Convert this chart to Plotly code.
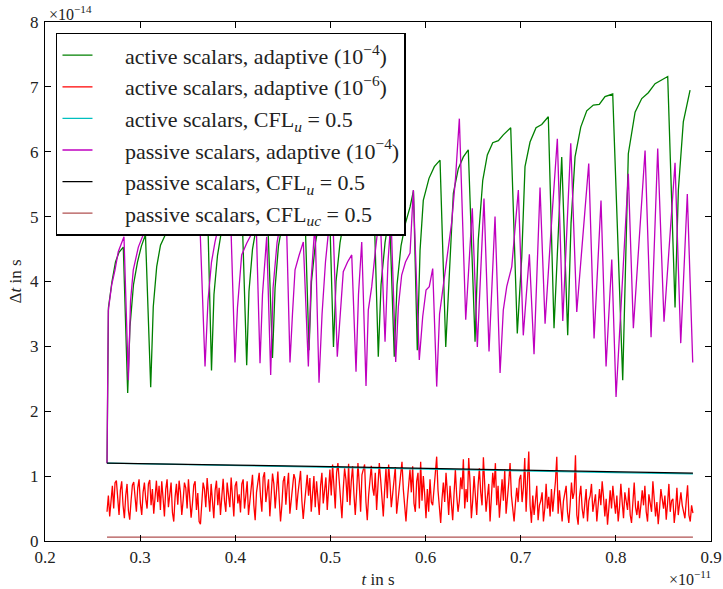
import numpy as np
import plotly.graph_objects as go

# ---- data (t in units of 1e-11 s, dt in units of 1e-14 s) ----
green_t = [0.2652, 0.2667, 0.2704, 0.2741, 0.2778, 0.2823, 0.2869, 0.2893, 0.2930, 0.2972,
           0.3014, 0.3056, 0.3111, 0.3138, 0.3174, 0.3214, 0.3261, 0.3319, 0.3372, 0.3424,
           0.3477, 0.3535, 0.3587, 0.3645, 0.3703, 0.3750, 0.3776, 0.3813, 0.3855, 0.3908,
           0.3960, 0.4013, 0.4065, 0.4120, 0.4144, 0.4181, 0.4228, 0.4281, 0.4333, 0.4391,
           0.4418, 0.4454, 0.4502, 0.4554, 0.4607, 0.4665, 0.4722, 0.4775, 0.4801, 0.4843,
           0.4891, 0.4938, 0.4985, 0.5032, 0.5059, 0.5101, 0.5148, 0.5201, 0.5253, 0.5311,
           0.5364, 0.5421, 0.5448, 0.5503, 0.5532, 0.5574, 0.5621, 0.5671, 0.5700, 0.5742,
           0.5789, 0.5837, 0.5873, 0.5913, 0.5942, 0.5976, 0.6036, 0.6092, 0.6152, 0.6212,
           0.6239, 0.6292, 0.6344, 0.6397, 0.6449, 0.6520, 0.6554, 0.6601, 0.6649, 0.6706,
           0.6765, 0.6817, 0.6895, 0.6964, 0.7011, 0.7045, 0.7098, 0.7161, 0.7221, 0.7290,
           0.7350, 0.7431, 0.7494, 0.7529, 0.7571, 0.7631, 0.7694, 0.7763, 0.7826, 0.7886,
           0.7967, 0.8072, 0.8131, 0.8202, 0.8272, 0.8341, 0.8412, 0.8472, 0.8545, 0.8622,
           0.8657, 0.8709, 0.8780]
green_dt = [1.20, 3.60, 4.00, 4.30, 4.45, 4.53, 2.28, 3.30, 3.95, 4.30,
            4.55, 4.72, 2.37, 3.61, 4.23, 4.56, 4.71, 4.74, 4.87, 5.05,
            5.18, 5.28, 5.35, 5.40, 5.45, 2.63, 3.80, 4.40, 4.78, 5.00,
            5.15, 5.28, 5.38, 2.71, 3.85, 4.50, 4.90, 5.15, 5.30, 2.82,
            3.90, 4.55, 4.95, 5.20, 5.35, 5.45, 5.55, 2.94, 4.00, 4.60,
            5.00, 5.25, 5.40, 2.99, 4.00, 4.60, 5.00, 5.25, 5.40, 5.50,
            5.58, 5.65, 5.70, 2.84, 3.95, 4.60, 5.05, 2.84, 3.95, 4.55,
            4.90, 5.15, 5.40, 2.94, 4.48, 5.25, 5.59, 5.77, 5.87, 2.99,
            3.87, 5.36, 5.74, 5.92, 6.03, 3.07, 4.64, 5.56, 5.95, 6.14,
            6.17, 6.26, 6.37, 3.20, 4.38, 5.77, 6.15, 6.37, 6.42, 6.54,
            3.28, 5.92, 3.17, 4.90, 5.92, 6.38, 6.63, 6.72, 6.73, 6.85,
            6.89, 2.48, 5.97, 6.61, 6.82, 6.91, 7.05, 7.10, 7.16, 3.60,
            5.41, 6.46, 6.95]

magenta_t = [0.2652, 0.2665, 0.2701, 0.2736, 0.2770, 0.2830, 0.2876, 0.2899, 0.2928, 0.2981,
             0.3051, 0.3104, 0.3156, 0.3209, 0.3261, 0.3319, 0.3377, 0.3435, 0.3493, 0.3550,
             0.3608, 0.3682, 0.3713, 0.3750, 0.3787, 0.3839, 0.3892, 0.3945, 0.3997, 0.4023,
             0.4067, 0.4120, 0.4173, 0.4218, 0.4260, 0.4286, 0.4330, 0.4372, 0.4397, 0.4439,
             0.4486, 0.4533, 0.4575, 0.4601, 0.4628, 0.4670, 0.4715, 0.4768, 0.4796, 0.4838,
             0.4880, 0.4912, 0.4948, 0.4985, 0.5022, 0.5072, 0.5135, 0.5180, 0.5224, 0.5269,
             0.5295, 0.5329, 0.5374, 0.5398, 0.5434, 0.5474, 0.5521, 0.5574, 0.5605, 0.5637,
             0.5686, 0.5714, 0.5749, 0.5789, 0.5837, 0.5871, 0.5934, 0.5970, 0.6005, 0.6039,
             0.6075, 0.6117, 0.6147, 0.6222, 0.6275, 0.6315, 0.6355, 0.6422, 0.6491, 0.6544,
             0.6614, 0.6667, 0.6730, 0.6783, 0.6817, 0.6853, 0.6906, 0.6975, 0.7027, 0.7091,
             0.7140, 0.7203, 0.7256, 0.7319, 0.7385, 0.7442, 0.7526, 0.7589, 0.7715, 0.7771,
             0.7844, 0.7897, 0.7957, 0.8002, 0.8131, 0.8184, 0.8307, 0.8370, 0.8440, 0.8506,
             0.8622, 0.8682, 0.8751, 0.8808]
magenta_dt = [1.20, 3.55, 3.95, 4.18, 4.46, 4.69, 2.48, 3.70, 4.18, 4.53,
              4.79, 4.98, 5.10, 5.20, 5.30, 5.40, 5.48, 5.55, 5.60, 5.65,
              5.70, 2.69, 3.70, 4.30, 4.61, 4.95, 5.15, 5.30, 2.75, 3.60,
              4.41, 4.59, 4.74, 5.00, 2.74, 3.80, 4.69, 2.56, 3.90, 4.60,
              5.00, 5.20, 2.75, 3.50, 4.18, 4.40, 4.61, 2.69, 4.00, 4.90,
              2.44, 3.50, 4.30, 4.85, 5.15, 2.84, 4.15, 4.30, 4.41, 2.61,
              3.80, 4.61, 2.39, 3.56, 3.92, 4.50, 5.10, 3.07, 4.30, 4.98,
              2.76, 3.61, 4.10, 4.30, 4.44, 5.41, 2.79, 3.46, 3.87, 3.92,
              4.20, 2.38, 3.50, 4.33, 4.92, 5.60, 6.51, 3.41, 5.13, 2.99,
              5.28, 2.92, 5.00, 2.59, 3.56, 3.92, 4.23, 5.41, 3.17, 4.42,
              2.88, 5.45, 3.35, 4.80, 6.20, 3.39, 6.13, 3.53, 5.82, 3.12,
              5.25, 2.69, 4.34, 2.22, 5.66, 3.28, 6.02, 3.14, 6.05, 3.38,
              5.83, 3.05, 5.35, 2.75]

red_t_start, red_t_end = 0.2652, 0.8810
red_dt = [
    # t ~ 0.265 - 0.415
    0.45, 0.70, 0.38, 0.62, 0.85, 0.50, 0.90, 0.93, 0.60, 0.40,
    0.78, 0.92, 0.55, 0.35, 0.70, 0.88, 0.47, 0.33, 0.62, 0.86,
    0.91, 0.70, 0.45, 0.82, 0.95, 0.58, 0.40, 0.75, 0.90, 0.65,
    0.50, 0.88, 0.94, 0.55, 0.80, 0.42, 0.70, 0.93, 0.60, 0.85,
    0.48, 0.92, 0.66, 0.38, 0.80, 0.95, 0.52, 0.72, 0.90, 0.44,
    0.30, 0.68, 0.88, 0.56, 0.93, 0.75, 0.40, 0.62, 0.90, 0.82,
    0.50, 0.95, 0.70, 0.36, 0.58, 0.86, 0.92, 0.48, 0.74, 0.30,
    0.26, 0.64, 0.90, 0.80, 0.52, 0.97, 0.70, 0.45, 0.88, 0.60,
    0.35, 0.78, 0.93, 0.55, 0.82, 0.40, 0.68, 0.96, 0.62, 0.45,
    0.90, 0.75, 0.52, 0.98, 0.66, 0.38, 0.85, 0.92, 0.58, 0.72,
    0.44, 0.88, 0.95, 0.50, 0.70, 0.92, 0.40,
    # t ~ 0.415 - 0.500
    0.62, 0.85, 1.02, 0.55, 0.32, 0.75, 0.90, 1.05, 0.68, 0.45,
    0.98, 1.06, 0.60, 0.82, 0.95, 0.38, 0.70, 1.04, 0.88, 0.50,
    0.78, 1.07, 0.65, 0.30, 0.55, 0.92, 1.00, 0.56, 0.84, 1.05,
    0.42, 0.60, 0.75, 1.03, 0.95, 0.48, 0.72, 0.90, 1.08, 0.62,
    0.34, 0.58, 0.86, 1.02, 0.70, 0.97, 0.45, 0.80, 1.00, 0.52,
    0.92, 0.66, 0.40, 0.85, 1.05, 0.58, 0.76, 0.98, 0.48, 0.88,
    # t ~ 0.500 - 0.594
    1.10, 0.70, 1.18, 0.85, 0.50, 1.05, 1.20, 0.92, 0.62, 0.35,
    0.80, 1.12, 0.95, 0.60, 1.19, 0.55, 0.92, 1.15, 0.72, 0.40,
    0.75, 1.20, 0.88, 0.45, 1.02, 1.10, 1.18, 0.60, 0.32, 0.70,
    0.95, 1.16, 0.82, 0.70, 1.05, 0.48, 0.85, 1.20, 0.95, 0.62,
    0.38, 0.78, 1.12, 0.66, 1.18, 0.90, 0.52, 0.72, 0.90, 1.14,
    0.42, 0.65, 0.78, 1.06, 1.22, 0.80, 0.55, 0.30, 0.62, 0.88,
    1.10, 0.75, 1.15, 0.58, 0.45, 0.92, 1.05, 0.50,
    # t ~ 0.594 - 0.699
    1.22, 0.62, 1.00, 0.72, 0.35, 0.80, 0.45, 0.95, 0.60, 0.55,
    0.85, 1.15, 1.30, 0.78, 0.50, 0.28, 0.65, 0.90, 0.60, 1.05,
    0.75, 0.40, 0.85, 0.55, 0.32, 0.72, 1.10, 0.70, 0.45, 0.62,
    0.98, 0.80, 1.26, 0.50, 0.80, 0.60, 1.28, 0.90, 0.35, 0.62,
    1.00, 0.70, 0.40, 0.85, 1.12, 0.75, 0.55, 1.29, 0.88, 0.45,
    0.68, 0.88, 0.30, 0.60, 1.05, 0.82, 1.20, 0.55, 0.85, 0.36,
    0.70, 0.95, 0.62, 1.10, 0.42, 0.75, 0.90, 1.20, 0.70, 0.50,
    0.30, 0.58, 0.82, 0.60, 0.95,
    # t ~ 0.699 - 0.773
    1.02, 0.60, 0.82, 1.28, 0.45, 0.95, 1.38, 0.55, 0.28, 0.70,
    0.40, 0.62, 0.85, 0.32, 0.55, 0.62, 0.75, 0.30, 0.50, 0.88,
    0.50, 0.68, 0.38, 0.80, 0.45, 0.70, 0.92, 1.30, 0.42, 0.78,
    0.55, 0.30, 0.62, 0.72, 0.85, 0.45, 0.28, 0.55, 0.90, 0.65,
    0.75, 1.32, 0.40, 0.25, 0.68, 0.85, 0.50, 0.35, 0.58, 0.80,
    0.30, 0.62, 0.70,
    # t ~ 0.773 - 0.881
    0.88, 0.45, 0.60, 0.72, 0.30, 0.55, 0.80, 0.55, 0.92, 0.68,
    0.38, 0.65, 0.25, 0.50, 0.78, 0.50, 0.85, 0.62, 0.42, 0.70,
    0.30, 0.52, 0.88, 0.60, 0.35, 0.75, 0.58, 0.48, 0.82, 0.40,
    0.28, 0.68, 0.90, 0.52, 0.40, 0.62, 0.35, 0.55, 0.78, 0.55,
    0.85, 0.45, 0.30, 0.72, 0.60, 0.45, 0.92, 0.70, 0.38, 0.60,
    0.26, 0.50, 0.80, 0.65, 0.50, 0.70, 0.33, 0.58, 0.88, 0.45,
    0.62, 0.65, 0.28, 0.48, 0.82, 0.40, 0.60, 0.75, 0.55, 0.42,
    0.35, 0.62, 0.86, 0.40, 0.30, 0.55, 0.43,
]
red_t = np.linspace(red_t_start, red_t_end, len(red_dt))

cfl_t = [0.2652, 0.3000, 0.4000, 0.5000, 0.6000, 0.7000, 0.8000, 0.8810]
cyan_dt = [1.20, 1.19, 1.165, 1.14, 1.11, 1.085, 1.055, 1.035]
black_dt = [1.20, 1.195, 1.17, 1.145, 1.12, 1.095, 1.065, 1.045]
brown_t = [0.2652, 0.8810]
brown_dt = [0.06, 0.06]

x_ticks = [0.2, 0.3, 0.4, 0.5, 0.6, 0.7, 0.8, 0.9]
x_ticktext = ["0.2", "0.3", "0.4", "0.5", "0.6", "0.7", "0.8", "0.9"]
y_ticks = [0, 1, 2, 3, 4, 5, 6, 7, 8]

labels = [
    "active scalars, adaptive (10<sup>−4</sup>)",
    "active scalars, adaptive (10<sup>−6</sup>)",
    "active scalars, CFL<sub><i>u</i></sub> = 0.5",
    "passive scalars, adaptive (10<sup>−4</sup>)",
    "passive scalars, CFL<sub><i>u</i></sub> = 0.5",
    "passive scalars, CFL<sub><i>uc</i></sub> = 0.5",
]
colors = ["#008000", "#ff0000", "#00bfbf", "#bf00bf", "#000000", "#b05050"]

SERIF = "Liberation Serif, DejaVu Serif, serif"
PAD = "\u2003 "  # gap between legend line sample and its text

series = [
    (green_t, green_dt),
    (list(red_t), red_dt),
    (cfl_t, cyan_dt),
    (magenta_t, magenta_dt),
    (cfl_t, black_dt),
    (brown_t, brown_dt),
]

fig = go.Figure()
for i, ((tx, ty), lab, col) in enumerate(zip(series, labels, colors)):
    fig.add_trace(go.Scatter(x=tx, y=ty, mode="lines", name=PAD + lab,
                             line=dict(color=col, width=1.3),
                             legendgroup=f"g{i}"))

axis_common = dict(showline=True, linecolor="black", linewidth=1.3, mirror="allticks",
                   ticks="inside", ticklen=6, tickwidth=1, tickcolor="black",
                   showgrid=False, zeroline=False, automargin=False,
                   tickfont=dict(family=SERIF, size=17, color="#222"))

fig.update_layout(
    width=723, height=589,
    margin=dict(l=45, r=12, t=22, b=48),
    plot_bgcolor="white", paper_bgcolor="white",
    xaxis=dict(range=[0.2, 0.9], tickvals=x_ticks, ticktext=x_ticktext,
               title=dict(text="<i>t</i> in s", font=dict(family=SERIF, size=17, color="#222"), standoff=13),
               **axis_common),
    yaxis=dict(range=[0, 8], tickvals=y_ticks,
               ticklabelstandoff=2,
               title=dict(text="Δ<i>t</i> in s", font=dict(family=SERIF, size=17, color="#222"), standoff=4),
               **axis_common),
    legend=dict(x=0.0165, y=0.979, xanchor="left", yanchor="top",
                bgcolor="white", bordercolor="black", borderwidth=1.5,
                font=dict(family=SERIF, size=22, color="#222"),
                tracegroupgap=0, itemwidth=30),
    showlegend=True,
    annotations=[
        dict(text="×10<sup>−14</sup>", xref="paper", yref="paper", x=0.0, y=1.0,
             xanchor="left", yanchor="bottom", showarrow=False, xshift=2, yshift=-3,
             font=dict(family=SERIF, size=16, color="#222")),
        dict(text="×10<sup>−11</sup>", xref="paper", yref="paper", x=1.0, y=0.0,
             xanchor="right", yanchor="top", showarrow=False, yshift=-25, xshift=2,
             font=dict(family=SERIF, size=16, color="#222")),
    ],
)

fig.write_html("out.html")
